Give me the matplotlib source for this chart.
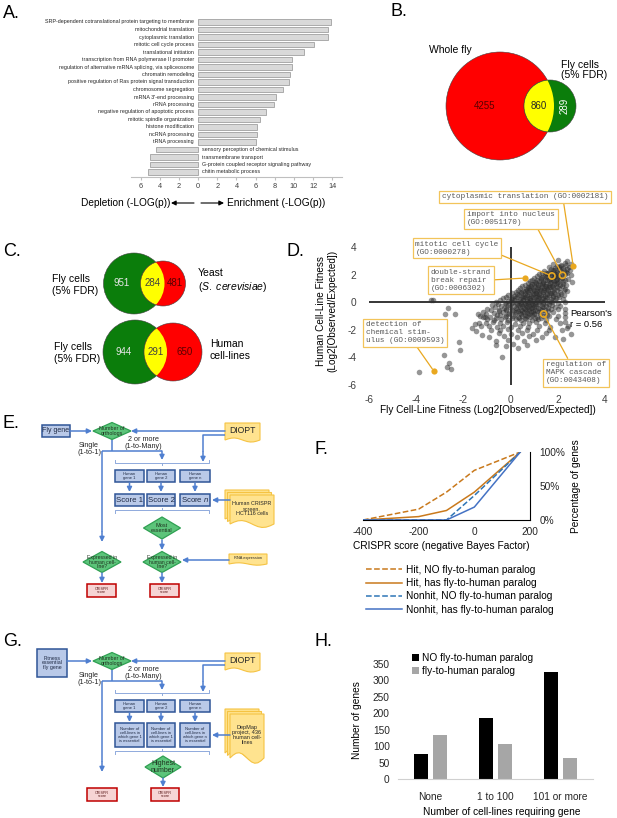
import numpy as np
import matplotlib
matplotlib.use('Agg')
import matplotlib.pyplot as plt
from matplotlib.patches import Circle, Rectangle, Polygon

plt.rcParams['font.family'] = ['Liberation Sans', 'DejaVu Sans']
plt.rcParams['axes.unicode_minus'] = False
plt.rcParams['mathtext.fontset'] = 'custom'
plt.rcParams['mathtext.rm'] = 'Liberation Sans'
plt.rcParams['mathtext.it'] = 'Liberation Sans:italic'

W, H = 617, 818

# ---- panel A: GO term enrichment / depletion
go_terms = ['SRP-dependent cotranslational protein targeting to membrane',
            'mitochondrial translation', 'cytoplasmic translation',
            'mitotic cell cycle process', 'translational initiation',
            'transcription from RNA polymerase II promoter',
            'regulation of alternative mRNA splicing, via spliceosome',
            'chromatin remodeling', 'positive regulation of Ras protein signal transduction',
            'chromosome segregation', "mRNA 3'-end processing", 'rRNA processing',
            'negative regulation of apoptotic process', 'mitotic spindle organization',
            'histone modification', 'ncRNA processing', 'tRNA processing',
            'sensory perception of chemical stimulus', 'transmembrane transport',
            'G-protein coupled receptor signaling pathway', 'chitin metabolic process']
go_logp = [13.9, 13.5, 13.5, 12.1, 11.0, 9.75, 9.75, 9.6, 9.5, 8.9, 8.1, 7.9,
           7.1, 6.4, 6.1, 6.1, 6.0, -4.4, -5.0, -5.0, -5.2]
go_ticks = [-6, -4, -2, 0, 2, 4, 6, 8, 10, 12, 14]

# ---- panel B / C: venn counts
b_counts = [4255, 860, 289]
yeast_counts = [951, 284, 481]
human_counts = [944, 291, 650]

# ---- panel D: fly vs human fitness per GO term
fly_fit = [-3.38, -3.28, -2.66, -2.78, -2.34, -1.40, -1.10, -1.50, -1.25, -2.20, -2.16, -2.82,
           -2.62, -2.70, -2.52, -3.88, -0.35, -0.60,
           2.02, 2.38, 1.78, 2.12, 2.31, 2.58, 1.62, 1.88, 2.03, 2.21, 2.47,
           1.41, 1.63, 1.79, 1.98, 2.12, 2.33, 2.52, 1.22, 1.47, 1.58, 1.77, 1.92, 2.06, 2.29, 2.56,
           1.01, 1.28, 1.49, 1.66, 1.83, 1.97, 2.16, 2.42, 0.82, 1.04, 1.21, 1.39, 1.56, 1.71, 1.86,
           2.01, 2.24, 2.61, 0.61, 0.84, 0.99, 1.16, 1.31, 1.44, 1.61, 1.76, 1.91, 2.09, 2.36,
           0.38, 0.66, 0.79, 0.96, 1.12, 1.24, 1.41, 1.56, 1.69, 1.86, 2.04, 2.31,
           0.21, 0.44, 0.61, 0.74, 0.91, 1.06, 1.19, 1.36, 1.49, 1.66, 1.84, 2.11, 2.40,
           -0.12, 0.16, 0.34, 0.56, 0.71, 0.86, 0.99, 1.16, 1.29, 1.46, 1.61, 1.79, 2.01, 2.28,
           -0.31, 0.02, 0.19, 0.41, 0.54, 0.71, 0.84, 1.01, 1.14, 1.31, 1.49, 1.71, 1.94, 2.21,
           -0.61, -0.24, 0.04, 0.26, 0.44, 0.61, 0.76, 0.89, 1.06, 1.19, 1.36, 1.54, 1.76, 2.01, 2.30,
           -0.79, -0.41, -0.09, 0.14, 0.36, 0.49, 0.66, 0.79, 0.96, 1.09, 1.31, 1.49, 1.74, 2.11,
           -1.02, -0.49, -0.21, 0.06, 0.29, 0.46, 0.61, 0.76, 0.91, 1.04, 1.26, 1.44, 1.71, 2.01, 2.30,
           -1.19, -0.71, -0.34, -0.06, 0.21, 0.39, 0.56, 0.71, 0.86, 1.01, 1.21, 1.46, 1.81, 2.29,
           -1.31, -0.89, -0.56, -0.21, 0.09, 0.31, 0.49, 0.71, 0.89, 1.11, 1.36, 1.64, 2.01, 2.30,
           -1.01, -0.69, -0.41, -0.09, 0.21, 0.44, 0.66, 0.91, 1.16, 1.49, 1.91,
           -1.36, -1.04, -0.76, -0.44, -0.16, 0.19, 0.51, 0.79, 1.09, 1.46, 2.09,
           -0.91, -0.59, -0.31, 0.01, 0.41, 0.74, 1.21, 1.69,
           -0.81, -0.44, -0.11, 0.31, 0.69, 1.11, 1.61, 2.19,
           -0.49, 0.01, 0.49, 0.96, 1.51, -0.29, 0.26, 0.79, 1.31, 1.89,
           -0.11, 0.56, 1.09, 0.11, 0.69]
human_fit = [0.15, 0.15, -0.45, -0.82, -0.88, -0.88, -1.05, -1.60, -1.75, -2.85, -3.45, -3.85,
             -4.42, -4.70, -4.85, -5.05, -3.95, -3.10,
             3.05, 2.95, 2.78, 2.70, 2.82, 2.74, 2.52, 2.45, 2.58, 2.47, 2.55,
             2.28, 2.20, 2.31, 2.18, 2.29, 2.21, 2.33, 2.02, 1.95, 2.08, 1.97, 2.05, 1.93, 2.07, 1.95,
             1.78, 1.72, 1.81, 1.70, 1.79, 1.68, 1.77, 1.71, 1.52, 1.45, 1.55, 1.47, 1.58, 1.44, 1.53,
             1.46, 1.56, 1.49, 1.27, 1.21, 1.30, 1.22, 1.31, 1.19, 1.28, 1.20, 1.29, 1.23, 1.26,
             1.02, 0.97, 1.06, 0.95, 1.04, 0.93, 1.05, 0.98, 1.07, 0.96, 1.03, 0.97,
             0.77, 0.71, 0.80, 0.72, 0.79, 0.70, 0.81, 0.73, 0.78, 0.69, 0.76, 0.74, 0.79,
             0.52, 0.47, 0.55, 0.46, 0.53, 0.45, 0.56, 0.48, 0.54, 0.44, 0.51, 0.47, 0.55, 0.49,
             0.27, 0.21, 0.30, 0.23, 0.29, 0.20, 0.28, 0.22, 0.31, 0.24, 0.27, 0.21, 0.29, 0.23,
             0.03, -0.04, 0.05, -0.03, 0.04, -0.05, 0.02, -0.03, 0.05, -0.02, 0.03, -0.04, 0.04, -0.03, 0.02,
             -0.22, -0.29, -0.21, -0.28, -0.23, -0.30, -0.22, -0.27, -0.20, -0.29, -0.24, -0.28, -0.21, -0.27,
             -0.47, -0.54, -0.46, -0.53, -0.48, -0.55, -0.47, -0.52, -0.45, -0.54, -0.49, -0.53, -0.46, -0.52, -0.48,
             -0.72, -0.79, -0.71, -0.78, -0.73, -0.80, -0.72, -0.77, -0.70, -0.79, -0.74, -0.78, -0.72, -0.77,
             -0.98, -1.04, -0.96, -1.03, -0.97, -1.05, -0.99, -1.02, -0.95, -1.04, -0.98, -1.03, -0.97, -1.10,
             -1.22, -1.29, -1.21, -1.28, -1.23, -1.30, -1.22, -1.27, -1.20, -1.29, -1.24,
             -1.48, -1.54, -1.46, -1.53, -1.47, -1.55, -1.49, -1.52, -1.45, -1.54, -1.50,
             -1.72, -1.79, -1.71, -1.78, -1.73, -1.80, -1.74, -1.77,
             -1.98, -2.04, -1.97, -2.03, -1.99, -2.05, -1.98, -2.02,
             -2.23, -2.29, -2.21, -2.28, -2.24, -2.48, -2.54, -2.47, -2.53, -2.49,
             -2.73, -2.79, -2.72, -3.02, -3.08]
# denser core of the cloud
fly_fit_core = [1.95, 2.15, 2.35,
                1.70, 1.85, 2.05, 2.25, 2.40,
                1.35, 1.52, 1.70, 1.86, 2.00, 2.18, 2.40,
                1.12, 1.35, 1.55, 1.72, 1.88, 2.02, 2.22,
                0.92, 1.12, 1.30, 1.46, 1.62, 1.78, 1.93, 2.10, 2.32,
                0.72, 0.92, 1.08, 1.24, 1.38, 1.52, 1.68, 1.82, 1.98, 2.20,
                0.50, 0.72, 0.88, 1.03, 1.18, 1.33, 1.48, 1.63, 1.78, 1.95, 2.18,
                0.30, 0.52, 0.68, 0.82, 0.98, 1.13, 1.28, 1.43, 1.58, 1.75, 1.95, 2.25,
                0.05, 0.26, 0.45, 0.62, 0.78, 0.93, 1.08, 1.22, 1.38, 1.53, 1.70, 1.90, 2.15,
                -0.20, 0.08, 0.27, 0.47, 0.63, 0.78, 0.93, 1.08, 1.22, 1.38, 1.56, 1.80, 2.05,
                -0.45, -0.10, 0.14, 0.34, 0.52, 0.68, 0.82, 0.97, 1.12, 1.27, 1.45, 1.65, 1.88,
                -0.55, -0.20, 0.08, 0.28, 0.42, 0.57, 0.72, 0.87, 1.02, 1.18, 1.38, 1.62,
                -0.65, -0.30, -0.02, 0.22, 0.40, 0.55, 0.70, 0.85, 1.00, 1.17, 1.38, 1.60, 1.90,
                -0.85, -0.50, -0.20, 0.10, 0.32, 0.50, 0.65, 0.80, 0.95, 1.12, 1.35, 1.60,
                -1.05, -0.45, -0.10, 0.20, 0.42, 0.60, 0.80, 1.00, 1.25, 1.55,
                -1.15, -0.60, -0.25, 0.05, 0.35, 0.60, 0.82, 1.05, 1.30,
                2.30, 2.45, 2.40, 2.55, 2.20, -1.65, -1.45, -1.20, -0.90, -0.60, -0.20, 0.30]
human_fit_core = [2.64, 2.59, 2.66,
                  2.40, 2.35, 2.41, 2.36, 2.39,
                  2.14, 2.09, 2.15, 2.10, 2.13, 2.08, 2.14,
                  1.89, 1.84, 1.90, 1.85, 1.88, 1.83, 1.89,
                  1.64, 1.59, 1.65, 1.60, 1.63, 1.58, 1.64, 1.60, 1.63,
                  1.39, 1.34, 1.40, 1.35, 1.38, 1.33, 1.39, 1.35, 1.38, 1.34,
                  1.14, 1.09, 1.15, 1.10, 1.13, 1.08, 1.14, 1.10, 1.13, 1.09, 1.14,
                  0.89, 0.84, 0.90, 0.85, 0.88, 0.83, 0.89, 0.85, 0.88, 0.84, 0.89, 0.85,
                  0.64, 0.59, 0.65, 0.60, 0.63, 0.58, 0.64, 0.60, 0.63, 0.59, 0.64, 0.60, 0.63,
                  0.39, 0.34, 0.40, 0.35, 0.38, 0.33, 0.39, 0.35, 0.38, 0.34, 0.39, 0.35, 0.38,
                  0.14, 0.09, 0.15, 0.10, 0.13, 0.08, 0.14, 0.10, 0.13, 0.09, 0.14, 0.10, 0.13,
                  -0.10, -0.15, -0.09, -0.14, -0.11, -0.16, -0.10, -0.14, -0.11, -0.15, -0.10, -0.14,
                  -0.35, -0.40, -0.34, -0.39, -0.36, -0.41, -0.35, -0.39, -0.36, -0.40, -0.35, -0.39, -0.36,
                  -0.60, -0.65, -0.59, -0.64, -0.61, -0.66, -0.60, -0.64, -0.61, -0.65, -0.60, -0.64,
                  -0.85, -0.90, -0.84, -0.89, -0.86, -0.91, -0.85, -0.89, -0.86, -0.90,
                  -1.10, -1.15, -1.09, -1.14, -1.11, -1.16, -1.10, -1.14, -1.11,
                  -1.45, -1.75, -1.90, -2.30, -2.70, -1.90, -2.10, -2.35, -2.50, -2.80, -3.20, -3.30]

hl_labels = ['cytoplasmic translation (GO:0002181)', 'import into nucleus\n(GO:0051170)',
             'mitotic cell cycle\n(GO:0000278)', 'double-strand\nbreak repair\n(GO:0006302)',
             'detection of\nchemical stim-\nulus (GO:0009593)', 'regulation of\nMAPK cascade\n(GO:0043408)']
hl_fly = [2.65, 2.20, 1.75, 0.62, -3.25, 1.40]
hl_human = [2.65, 1.95, 1.90, 1.75, -5.00, -0.85]
hl_filled = [True, False, False, True, True, False]
pearson_r = 0.56

# ---- panel F: cumulative CRISPR scores
crispr_x = [-400, -200, -100, 0, 165]
hit_no_paralog = [0.0, 0.16, 0.41, 0.73, 1.0]
hit_paralog = [0.0, 0.05, 0.14, 0.41, 1.0]
nonhit_no_paralog = [0.0, 0.0, 0.0, 0.36, 1.0]
nonhit_paralog = [0.0, 0.0, 0.0, 0.19, 1.0]

# ---- panel H
h_groups = ['None', '1 to 100', '101 or more']
h_no_paralog = [77, 185, 327]
h_paralog = [135, 107, 63]

GOLD = '#e9a820'
BLUE = '#4472c4'
ORANGE = '#c9791c'

fig = plt.figure(figsize=(W / 100, H / 100), dpi=100)


def pax(x0, y0, x1, y1):
    return fig.add_axes([x0 / W, 1 - y1 / H, (x1 - x0) / W, (y1 - y0) / H])


def axfrac(ax, px, py):
    return ax.transAxes.inverted().transform((px, H - py))


ov = fig.add_axes([0, 0, 1, 1])
ov.set_xlim(0, W)
ov.set_ylim(H, 0)
ov.axis('off')

for lab, x, y in [('A.', 3, 14), ('B.', 390, 11), ('C.', 3, 251), ('D.', 287, 251),
                  ('E.', 3, 423), ('F.', 315, 449), ('G.', 3, 641), ('H.', 315, 641)]:
    ov.text(x, y, lab, fontsize=13, va='center', ha='left')

# ================= A
ax = pax(131, 16.75, 342, 177.25)
ypos = np.arange(len(go_terms))
ax.barh(ypos, go_logp, height=0.68, color='#d9d9d9', edgecolor='#a0a0a0', lw=0.6)
ax.set_xlim(-7, 15)
ax.set_ylim(len(go_terms) - 0.3, -0.7)
for i, (t, v) in enumerate(zip(go_terms, go_logp)):
    if v > 0:
        ax.text(-0.45, i, t, ha='right', va='center', fontsize=3.9, color='#262626')
    else:
        ax.text(0.45, i, t, ha='left', va='center', fontsize=3.9, color='#262626')
ax.set_xticks(go_ticks)
ax.set_xticklabels([str(abs(t)) for t in go_ticks], fontsize=5.3, color='#404040')
ax.set_yticks([])
for s in ['top', 'left', 'right']:
    ax.spines[s].set_visible(False)
ax.spines['bottom'].set_color('#bfbfbf')
ax.tick_params(axis='x', length=2, color='#bfbfbf', pad=2)
ax.patch.set_alpha(0)

ov.text(170, 203, 'Depletion (-LOG(p))', ha='right', va='center', fontsize=7.3)
ov.text(227, 203, 'Enrichment (-LOG(p))', ha='left', va='center', fontsize=7.3)
ov.annotate('', xy=(171, 203), xytext=(194, 203),
            arrowprops=dict(arrowstyle='-|>', color='k', lw=0.8, mutation_scale=7, shrinkA=0, shrinkB=0))
ov.annotate('', xy=(224, 203), xytext=(201, 203),
            arrowprops=dict(arrowstyle='-|>', color='k', lw=0.8, mutation_scale=7, shrinkA=0, shrinkB=0))


# ================= B, C venns
def venn(cl, rl, cr, rr, cy, left_col, right_col, counts, txt_cols, rot_right=False):
    lc = Circle((cl, cy), rl, fc=left_col, ec='#404040', lw=0.4)
    rc = Circle((cr, cy), rr, fc=right_col, ec='#404040', lw=0.4)
    ov.add_patch(lc)
    ov.add_patch(rc)
    inter = Circle((cr, cy), rr, fc='#ffff00', ec='#404040', lw=0.4)
    ov.add_patch(inter)
    inter.set_clip_path(lc)
    xl = (cl - rl + (cr - rr)) / 2
    xr = (cl + rl + cr + rr) / 2
    xm = ((cr - rr) + (cl + rl)) / 2
    ov.text(xl, cy, str(counts[0]), ha='center', va='center', fontsize=7, color=txt_cols[0])
    ov.text(xm, cy, str(counts[1]), ha='center', va='center', fontsize=7, color=txt_cols[1])
    ov.text(xr, cy, str(counts[2]), ha='center', va='center', fontsize=7, color=txt_cols[2],
            rotation=90 if rot_right else 0)


venn(500, 54, 550, 26, 106, '#ff0000', '#0b7d0b', b_counts, ['#5a0000', '#262626', 'white'], rot_right=True)
ov.text(450, 50, 'Whole fly', ha='center', va='center', fontsize=7.5)
ov.text(561, 70, 'Fly cells\n(5% FDR)', ha='left', va='center', fontsize=7.5, linespacing=1.1)

venn(134, 30.5, 163, 22.5, 283.5, '#0b7d0b', '#ff0000', yeast_counts, ['#e6e6e6', '#404040', '#5a0000'])
ov.text(52, 285, 'Fly cells\n(5% FDR)', ha='left', va='center', fontsize=7.5, linespacing=1.2)
ov.text(198, 281, 'Yeast\n($\\it{S.\\ cerevisiae)}$', ha='left', va='center', fontsize=7.5, linespacing=1.2)
venn(135, 32, 173, 29, 352, '#0b7d0b', '#ff0000', human_counts, ['#e6e6e6', '#404040', '#5a0000'])
ov.text(54, 353, 'Fly cells\n(5% FDR)', ha='left', va='center', fontsize=7.5, linespacing=1.2)
ov.text(210, 350, 'Human\ncell-lines', ha='left', va='center', fontsize=7.5, linespacing=1.2)

# ================= D scatter
ax = pax(369, 247, 605, 385)
ax.scatter(fly_fit + fly_fit_core, human_fit + human_fit_core, s=16, c='#2e2e2e', alpha=0.5, lw=0, zorder=2)
ax.axhline(0, color='black', lw=1.1, zorder=1)
ax.axvline(0, color='black', lw=1.1, zorder=1)
ax.set_xlim(-6, 4)
ax.set_ylim(-6, 4)
ax.set_xticks([-6, -4, -2, 0, 2, 4])
ax.set_yticks([-6, -4, -2, 0, 2, 4])
ax.tick_params(length=0, labelsize=7.3, labelcolor='#404040')
ax.tick_params(axis='x', pad=7)
ax.tick_params(axis='y', pad=9)
for s in ax.spines.values():
    s.set_visible(False)
ax.patch.set_alpha(0)
ax.set_xlabel('Fly Cell-Line Fitness (Log2[Observed/Expected])', fontsize=7.2)
ax.xaxis.set_label_coords(*axfrac(ax, 488, 405))
ax.set_ylabel('Human Cell-Line Fitness\n(Log2[Observed/Expected])', fontsize=7.2, linespacing=1.1)
ax.yaxis.set_label_coords(*axfrac(ax, 337, 311))

box_pos = [(525, 197), (511, 219), (457, 248), (461, 280), (405, 333), (576, 373)]
relpos = [(0.73, 0), (0.79, 0), (1, 0.1), (1, 0.5), (0.63, 0), (0.39, 1)]
for lab, x, y, filled, bp, rp in zip(hl_labels, hl_fly, hl_human, hl_filled, box_pos, relpos):
    if filled:
        ax.scatter([x], [y], s=20, c=GOLD, lw=0, zorder=4)
    else:
        ax.scatter([x], [y], s=20, facecolors='none', edgecolors=GOLD, lw=1.2, zorder=4)
    ax.annotate(lab, xy=(x, y), xytext=(bp[0], H - bp[1]), textcoords='figure pixels',
                ha='center', va='center', multialignment='left',
                fontsize=5.6, family=['Liberation Mono', 'DejaVu Sans Mono'], color='#595959',
                bbox=dict(boxstyle='square,pad=0.35', fc='white', ec='#f2c45a', lw=0.9),
                arrowprops=dict(arrowstyle='-', color=GOLD, lw=0.9, relpos=rp, shrinkA=0, shrinkB=2),
                annotation_clip=False, zorder=5)
ov.text(570, 319, "Pearson's\nr = %.2f" % pearson_r, ha='left', va='center', fontsize=6.8, linespacing=1.2)

# ================= E, G flowcharts
LBLUE = '#4f7fd0'


def fc_arrow(x0, y0, x1, y1):
    ov.annotate('', xy=(x1, y1), xytext=(x0, y0),
                arrowprops=dict(arrowstyle='-|>', color=LBLUE, lw=1.1, mutation_scale=7, shrinkA=0, shrinkB=0))


def fc_line(xs, ys):
    ov.plot(xs, ys, color=LBLUE, lw=1.1, solid_capstyle='butt')


def fc_box(x0, y0, x1, y1, text, fs, red=False):
    if red:
        fc, ec, tc = '#f6d4d4', '#c00000', '#5a1a1a'
    else:
        fc, ec, tc = '#b9c9e8', '#2f5597', '#1f2a44'
    ov.add_patch(Rectangle((x0, y0), x1 - x0, y1 - y0, fc=fc, ec=ec, lw=1.1))
    ov.text((x0 + x1) / 2, (y0 + y1) / 2, text, ha='center', va='center', fontsize=fs,
            color=tc, linespacing=0.95)


def fc_diamond(cx, cy, w, h, text, fs):
    ov.add_patch(Polygon([(cx - w / 2, cy), (cx, cy - h / 2), (cx + w / 2, cy), (cx, cy + h / 2)],
                         closed=True, fc='#5cc47a', ec='#2fa052', lw=0.9))
    ov.text(cx, cy, text, ha='center', va='center', fontsize=fs, color='#1f3320', linespacing=0.95)


def fc_doc(x0, y0, x1, y1, text, fs, stack=0):
    for k in range(stack, -1, -1):
        dx = -2.5 * k
        xs = np.linspace(x0 + dx, x1 + dx, 12)
        wave = (y1 + dx) - 0.12 * (y1 - y0) * np.sin(np.linspace(0, 2 * np.pi, 12))
        pts = [(x0 + dx, y0 + dx), (x1 + dx, y0 + dx)] + list(zip(xs[::-1], wave[::-1]))
        ov.add_patch(Polygon(pts, closed=True, fc='#ffe38f', ec='#f5c343', lw=0.8))
    ov.text((x0 + x1) / 2, (y0 + y1) / 2 - 1, text, ha='center', va='center', fontsize=fs,
            color='#262626', linespacing=0.95)


def bracket(x0, x1, y, up):
    d = 3 if up else -3
    ov.plot([x0, x0, x1, x1], [y + d, y, y, y + d], color='#8faadc', lw=0.7)
    ov.plot([(x0 + x1) / 2] * 2, [y, y - d * 0.6], color='#8faadc', lw=0.7)


def flowchart(oy, top_text, top_box, doc_text, doc_box, mid_texts, mid_box, mid_fs):
    fc_box(top_box[0], oy + top_box[1], top_box[2], oy + top_box[3], top_text, top_box[4])
    fc_arrow(top_box[2], oy + 31, 92, oy + 31)
    fc_diamond(112, oy + 31, 38, 17, 'Number of\northologs', 3.9)
    fc_doc(225, oy + 23, 260, oy + 40, 'DIOPT', 6.2)
    fc_arrow(225, oy + 31, 131, oy + 31)
    fc_line([225, 203, 203], [oy + 35, oy + 35, oy + 52])
    fc_arrow(203, oy + 52, 203, oy + 62)
    ov.text(89, oy + 49, 'Single\n(1-to-1)', ha='center', va='center', fontsize=5.2, color='#262626',
            linespacing=1.1)
    ov.text(143, oy + 43, '2 or more\n(1-to-Many)', ha='center', va='center', fontsize=5.2, color='#262626',
            linespacing=1.1)
    fc_line([112, 112], [oy + 40, oy + 51])
    fc_line([102, 162], [oy + 51, oy + 51])
    fc_arrow(162, oy + 51, 162, oy + 60)
    fc_line([102, 102], [oy + 51, oy + 132])
    fc_arrow(102, oy + 132, 102, oy + 142)
    bracket(115, 209, oy + 63, False)
    cols = [(115, 144), (147, 175), (180, 210)]
    for (a, b), n in zip(cols, ['1', '2', 'n']):
        fc_box(a, oy + 70, b, oy + 82, 'Human\ngene ' + n, 3.0)
        fc_arrow((a + b) / 2, oy + 83, (a + b) / 2, oy + 92)
    for (a, b), t in zip(cols, mid_texts):
        fc_box(a, oy + mid_box[0], b, oy + mid_box[1], t, mid_fs)
    bracket(115, 209, oy + mid_box[1] + 4, True)
    fc_doc(doc_box[0], oy + doc_box[1], doc_box[2], oy + doc_box[3], doc_text, doc_box[4], stack=2)
    fc_arrow(doc_box[0], oy + (mid_box[0] + mid_box[1]) / 2, 212, oy + (mid_box[0] + mid_box[1]) / 2)


# E
oy = 400
flowchart(oy, 'Fly gene', (42, 25, 70, 37, 5.0), 'Human CRISPR\nscreen,\nHCT116 cells',
          (230, 95, 274, 124, 3.9), ['Score 1', 'Score 2', 'Score $n$'], (94, 106), 5.6)
fc_diamond(162, oy + 128, 37, 22, 'Most\nessential', 4.0)
fc_arrow(162, oy + 140, 162, oy + 150)
fc_diamond(102, oy + 162, 38, 21, 'Expressed in\nhuman cell-\nline?', 3.7)
fc_diamond(162, oy + 162, 38, 21, 'Expressed in\nhuman cell-\nline?', 3.7)
fc_doc(229, oy + 154, 267, oy + 164, 'RNA expression', 2.8)
fc_arrow(229, oy + 160, 182, oy + 160)
fc_arrow(102, oy + 173, 102, oy + 183)
fc_arrow(162, oy + 173, 162, oy + 183)
fc_box(87, oy + 184, 116, oy + 197, 'CRISPR\nscore', 2.7, red=True)
fc_box(150, oy + 184, 179, oy + 197, 'CRISPR\nscore', 2.7, red=True)

# G
oy = 630
flowchart(oy, 'Fitness\nessential\nfly gene', (37, 19, 67, 47, 3.8),
          'DepMap\nproject, 436\nhuman cell-\nlines', (230, 84, 264, 128, 4.0),
          ['Number of\ncell-lines in\nwhich gene %s\nis essential' % n for n in ['1', '1', 'n']],
          (93, 117), 3.0)
fc_diamond(163, oy + 137, 36, 22, 'Highest\nnumber', 5.0)
fc_arrow(163, oy + 148, 163, oy + 157)
fc_box(87, oy + 158, 117, oy + 171, 'CRISPR\nscore', 2.7, red=True)
fc_box(151, oy + 158, 179, oy + 171, 'CRISPR\nscore', 2.7, red=True)

# ================= F cumulative plot
ax = pax(363, 452, 530, 520)
ax.plot(crispr_x, hit_no_paralog, color=ORANGE, ls='--', lw=1.1, label='Hit, NO fly-to-human paralog')
ax.plot(crispr_x, hit_paralog, color=ORANGE, lw=1.1, label='Hit, has fly-to-human paralog')
ax.plot(crispr_x, nonhit_no_paralog, color='#2e75b6', ls='--', lw=1.1, label='Nonhit, NO fly-to-human paralog')
ax.plot(crispr_x, nonhit_paralog, color=BLUE, lw=1.1, label='Nonhit, has fly-to-human paralog')
ax.set_xlim(-400, 200)
ax.set_ylim(0, 1)
ax.set_xticks([-400, -200, 0, 200])
ax.set_yticks([0, 0.5, 1])
ax.set_yticklabels(['0%', '50%', '100%'])
ax.yaxis.tick_right()
ax.tick_params(length=0, labelsize=7.3, labelcolor='#262626')
ax.tick_params(axis='y', pad=7)
ax.tick_params(axis='x', pad=5)
ax.spines['left'].set_visible(False)
ax.spines['top'].set_visible(False)
ax.spines['right'].set_color('black')
ax.patch.set_alpha(0)
ax.set_xlabel('CRISPR score (negative Bayes Factor)', fontsize=7.3)
ax.xaxis.set_label_coords(*axfrac(ax, 441, 541))
ax.yaxis.set_label_position('right')
ax.set_ylabel('Percentage of genes', fontsize=7.3, rotation=90)
ax.yaxis.set_label_coords(*axfrac(ax, 571, 486))
ax.legend(loc='upper left', bbox_to_anchor=(366 / W, 1 - 565 / H), bbox_transform=fig.transFigure,
          frameon=False, fontsize=7.3, handlelength=3.6, handletextpad=0.3, labelspacing=0.32,
          borderpad=0, borderaxespad=0)

# ================= H grouped bars
ax = pax(398, 664, 593, 779)
xg = np.arange(len(h_groups))
ax.bar(xg - 0.146, h_no_paralog, width=0.22, color='black', label='NO fly-to-human paralog')
ax.bar(xg + 0.146, h_paralog, width=0.22, color='#a6a6a6', label='fly-to-human paralog')
ax.set_xlim(-0.5, 2.5)
ax.set_ylim(0, 350)
ax.set_yticks(range(0, 351, 50))
ax.set_xticks(xg)
ax.set_xticklabels(h_groups)
ax.tick_params(length=0, labelsize=7.3, labelcolor='#262626')
ax.tick_params(axis='x', pad=9)
ax.tick_params(axis='y', pad=6)
for s in ['top', 'left', 'right']:
    ax.spines[s].set_visible(False)
ax.spines['bottom'].set_color('#d0d0d0')
ax.patch.set_alpha(0)
ax.set_xlabel('Number of cell-lines requiring gene', fontsize=7.3)
ax.xaxis.set_label_coords(*axfrac(ax, 502, 807))
ax.set_ylabel('Number of genes', fontsize=7.3)
ax.yaxis.set_label_coords(*axfrac(ax, 362, 720))
ax.legend(loc='upper left', bbox_to_anchor=(412 / W, 1 - 653 / H), bbox_transform=fig.transFigure,
          frameon=False, fontsize=7.3, handlelength=0.7, handleheight=0.7, handletextpad=0.3,
          labelspacing=0.3, borderpad=0, borderaxespad=0)

fig.savefig('out.png', dpi=100)
